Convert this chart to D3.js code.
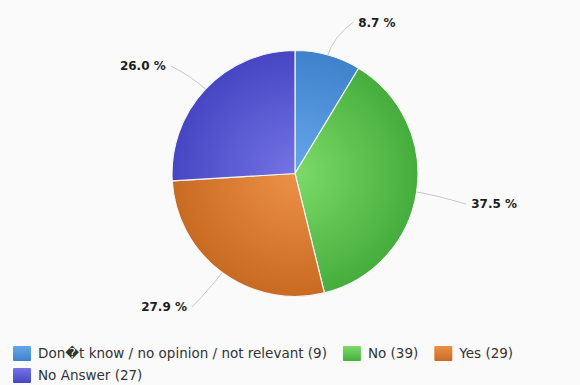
<!DOCTYPE html>
<html>
<head>
<meta charset="utf-8">
<script src="https://cdn.jsdelivr.net/npm/d3@7/dist/d3.min.js"></script>
<style>
  html, body { margin: 0; padding: 0; background: #fafafa; }
  svg { display: block; }
</style>
</head>
<body>
<svg id="chart" width="580" height="385"></svg>
<script>
// Survey answers
const categories = ["Don\uFFFDt know / no opinion / not relevant", "No", "Yes", "No Answer"];
const counts = [9, 39, 29, 27];
const baseColors = ["#3f82cc", "#45ad3c", "#c96a22", "#4646c4"];
const lightColors = ["#66a6ea", "#7ddb68", "#ec9048", "#7474e4"];

const W = 580, H = 385;
const cx = 295, cy = 173.5, R = 123;

const svg = d3.select("#chart");
const defs = svg.append("defs");

const total = d3.sum(counts);
const data = categories.map((c, i) => ({ name: c, value: counts[i], i }));

const pie = d3.pie().value(d => d.value).sort(null);
const arcs = pie(data);
const arc = d3.arc().innerRadius(0).outerRadius(R);

// radial shading for each slice, light near the centre
baseColors.forEach((c, i) => {
  const g = defs.append("radialGradient")
    .attr("id", "slice" + i)
    .attr("gradientUnits", "userSpaceOnUse")
    .attr("cx", 0).attr("cy", 0).attr("r", R);
  g.append("stop").attr("offset", "0%").attr("stop-color", lightColors[i]);
  g.append("stop").attr("offset", "100%").attr("stop-color", c);

  const lg = defs.append("linearGradient")
    .attr("id", "sym" + i)
    .attr("x1", 0).attr("y1", 0).attr("x2", 0).attr("y2", 1);
  lg.append("stop").attr("offset", "0%").attr("stop-color", lightColors[i]);
  lg.append("stop").attr("offset", "100%").attr("stop-color", c);
});

const gPie = svg.append("g").attr("transform", `translate(${cx},${cy})`);

gPie.selectAll("path.slice")
  .data(arcs)
  .join("path")
  .attr("class", "slice")
  .attr("d", arc)
  .attr("fill", d => `url(#slice${d.data.i})`)
  .attr("stroke", "#f4f4f4")
  .attr("stroke-width", 1.2)
  .attr("stroke-linejoin", "round");

// data labels with curved connectors
const fmt = d3.format(".1f");
const labelDist = 34;

arcs.forEach(a => {
  const mid = (a.startAngle + a.endAngle) / 2;
  const s = Math.sin(mid), c = Math.cos(mid);
  const right = s >= 0;
  const ex = R * s, ey = -R * c;
  const kx = (R + 18) * s, ky = -(R + 18) * c;
  const lx = (R + labelDist) * s + (right ? 21 : -15);
  const ly = -(R + labelDist) * c + (c < 0 ? 7 : 0);
  const tx = lx + (right ? -5 : 5);

  gPie.append("path")
    .attr("d", `M${ex},${ey} Q${kx},${ky} ${tx},${ly}`)
    .attr("fill", "none")
    .attr("stroke", "#c8c8c8")
    .attr("stroke-width", 1);

  gPie.append("text")
    .attr("x", lx)
    .attr("y", ly)
    .attr("dy", "0.36em")
    .attr("text-anchor", right ? "start" : "end")
    .attr("font-family", "DejaVu Sans, sans-serif")
    .attr("font-weight", "bold")
    .attr("font-size", 12)
    .attr("fill", "#1e1e1e")
    .text(fmt(a.data.value / total * 100) + " %");
});

// legend
const legend = svg.append("g")
  .attr("font-family", "DejaVu Sans, sans-serif")
  .attr("font-size", 13.5)
  .attr("fill", "#333");

const rows = [[0, 1, 2], [3]];
const symW = 18, symH = 15, textOff = 25, itemGap = 16;
rows.forEach((row, r) => {
  let x = 13;
  const base = 358 + r * 22;
  row.forEach(i => {
    legend.append("rect")
      .attr("x", x).attr("y", base - 12)
      .attr("width", symW).attr("height", symH)
      .attr("rx", 1)
      .attr("fill", `url(#sym${i})`);
    const t = legend.append("text")
      .attr("x", x + textOff).attr("y", base)
      .text(`${categories[i]} (${counts[i]})`);
    x += textOff + t.node().getComputedTextLength() + itemGap;
  });
});
</script>
</body>
</html>
